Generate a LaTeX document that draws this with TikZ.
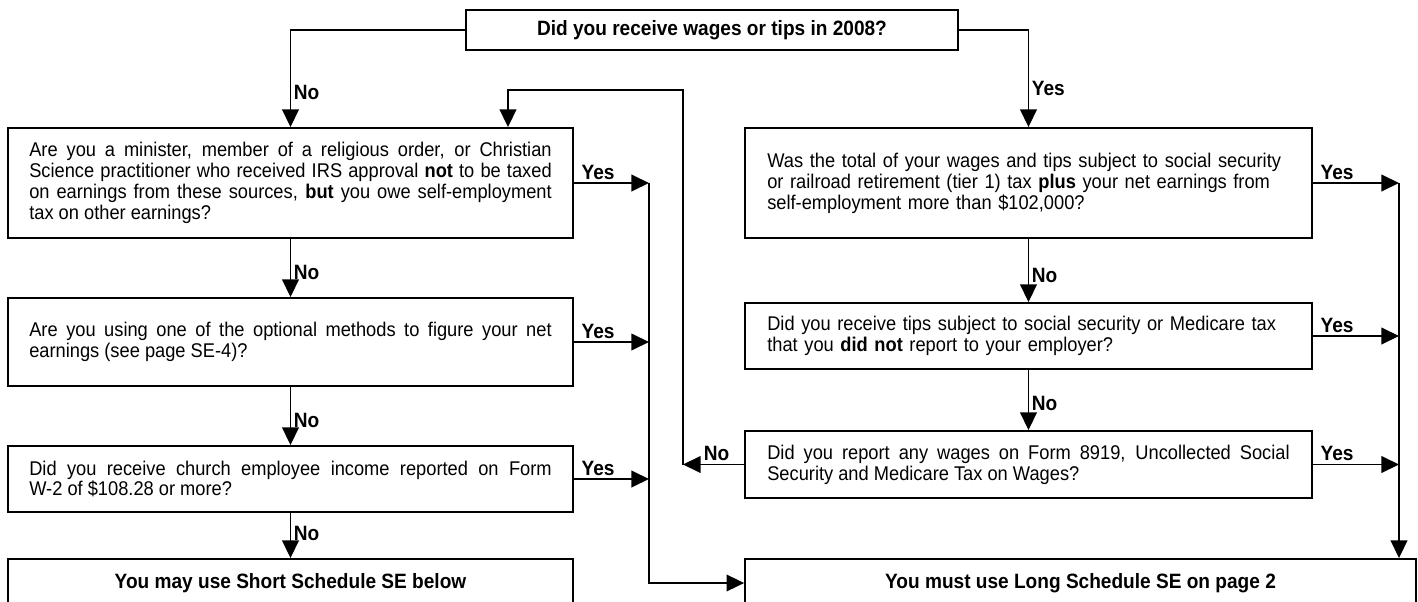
\documentclass[tikz,border=0pt]{standalone}
\usepackage{fontspec}
\setmainfont{Liberation Sans}[FakeStretch=0.92]
\usetikzlibrary{arrows.meta, positioning, calc}

\tikzset{
  qbox/.style={draw, line width=1.1pt, text width=10.45cm, align=justify,
               inner sep=0pt, font=\fontsize{11.3}{11.9}\selectfont,
               execute at begin node={\hyphenpenalty=10000\exhyphenpenalty=10000}},
  endbox/.style={draw, line width=1.1pt, inner sep=0pt,
                 font=\bfseries\fontsize{11.8}{12}\selectfont},
  flow/.style={-{Triangle[length=10pt,width=9.5pt]}, line width=0.8pt},
  ans/.style={font=\bfseries\fontsize{11.8}{12}\selectfont, inner sep=1.5pt},
  yes/.style={ans, anchor=south west, xshift=2.5pt},
}

\begin{document}
\begin{tikzpicture}[x=0.02cm, y=-0.02cm]
  \clip (0,0) rectangle (1418,602);

  % start question
  \node[endbox, minimum width=9.84cm, minimum height=0.8cm] (wages) at (712,30)
    {Did you receive wages or tips in 2008?};

  % left column
  \node[qbox, minimum width=11.3cm, minimum height=2.2cm] (l1) at (290.5,183)
    {Are you a minister, member of a religious order, or Christian\linebreak
     Science practitioner who received IRS approval \textbf{not} to be taxed\linebreak
     on earnings from these sources, \textbf{but} you owe self-employment\linebreak
     tax on other earnings?};
  \node[qbox, minimum width=11.3cm, minimum height=1.76cm] (l2) at (290.5,342)
    {Are you using one of the optional methods to figure your net\linebreak
     earnings (see page SE-4)?};
  \node[qbox, minimum width=11.3cm, minimum height=1.32cm] (l3) at (290.5,479)
    {Did you receive church employee income reported on Form\linebreak
     W-2 of \$108.28 or more?};
  \node[endbox, minimum width=11.3cm, minimum height=0.96cm] (short) at (290.5,583)
    {You may use Short Schedule SE below};

  % right column
  \node[qbox, align=left, minimum width=11.34cm, minimum height=2.2cm] (r1) at (1028.5,183)
    {Was the total of your wages and tips subject to social security\\
     or railroad retirement (tier 1) tax \textbf{plus} your net earnings from\\
     self-employment more than \$102,000?};
  \node[qbox, align=left, minimum width=11.34cm, minimum height=1.32cm] (r2) at (1028.5,336)
    {Did you receive tips subject to social security or Medicare tax\\
     that you \textbf{did not} report to your employer?};
  \node[qbox, minimum width=11.34cm, minimum height=1.34cm] (r3) at (1028.5,464.5)
    {Did you report any wages on Form 8919, Uncollected Social\linebreak
     Security and Medicare Tax on Wages?};
  \node[endbox, minimum width=13.42cm, minimum height=0.96cm] (long) at (1080.5,583)
    {You must use Long Schedule SE on page 2};

  % bends of the connectors
  \coordinate (lbus) at (649,183);
  \coordinate (rbus) at (1399,183);
  \coordinate (loop) at (683,90);
  \coordinate (back) at (508,90);

  \draw[flow] (wages.west) -| node[ans, pos=0.82, anchor=west] {No} (l1.north);
  \draw[flow] (wages.east) -| node[ans, pos=0.8, anchor=west] {Yes} (r1.north);

  \draw[flow] (l1) -- node[ans, pos=0.57, anchor=west] {No} (l2);
  \draw[flow] (l2) -- node[ans, pos=0.57, anchor=west] {No} (l3);
  \draw[flow] (l3) -- node[ans, pos=0.45, anchor=west] {No} (short);
  \draw[flow] (r1) -- node[ans, pos=0.58, anchor=west] {No} (r2);
  \draw[flow] (r2) -- node[ans, pos=0.55, anchor=west] {No} (r3);

  \draw[flow] (l1.east) -- node[yes, pos=0] {Yes} (l1.east -| lbus);
  \draw[flow] (l2.east) -- node[yes, pos=0] {Yes} (l2.east -| lbus);
  \draw[flow] (l3.east) -- node[yes, pos=0] {Yes} (l3.east -| lbus);
  \draw[flow] (lbus) |- (long.west);

  \draw[flow] (r1.east) -- node[yes, pos=0] {Yes} (r1.east -| rbus);
  \draw[flow] (r2.east) -- node[yes, pos=0] {Yes} (r2.east -| rbus);
  \draw[flow] (r3.east) -- node[yes, pos=0] {Yes} (r3.east -| rbus);
  \draw[flow] (rbus) -- (rbus |- long.north);

  \draw[flow] (r3.west) -- node[ans, pos=0.45, anchor=south] {No} (r3.west -| loop);
  \draw[flow] (r3.west -| loop) -- (loop) -- (back) -- (back |- l1.north);
\end{tikzpicture}
\end{document}
